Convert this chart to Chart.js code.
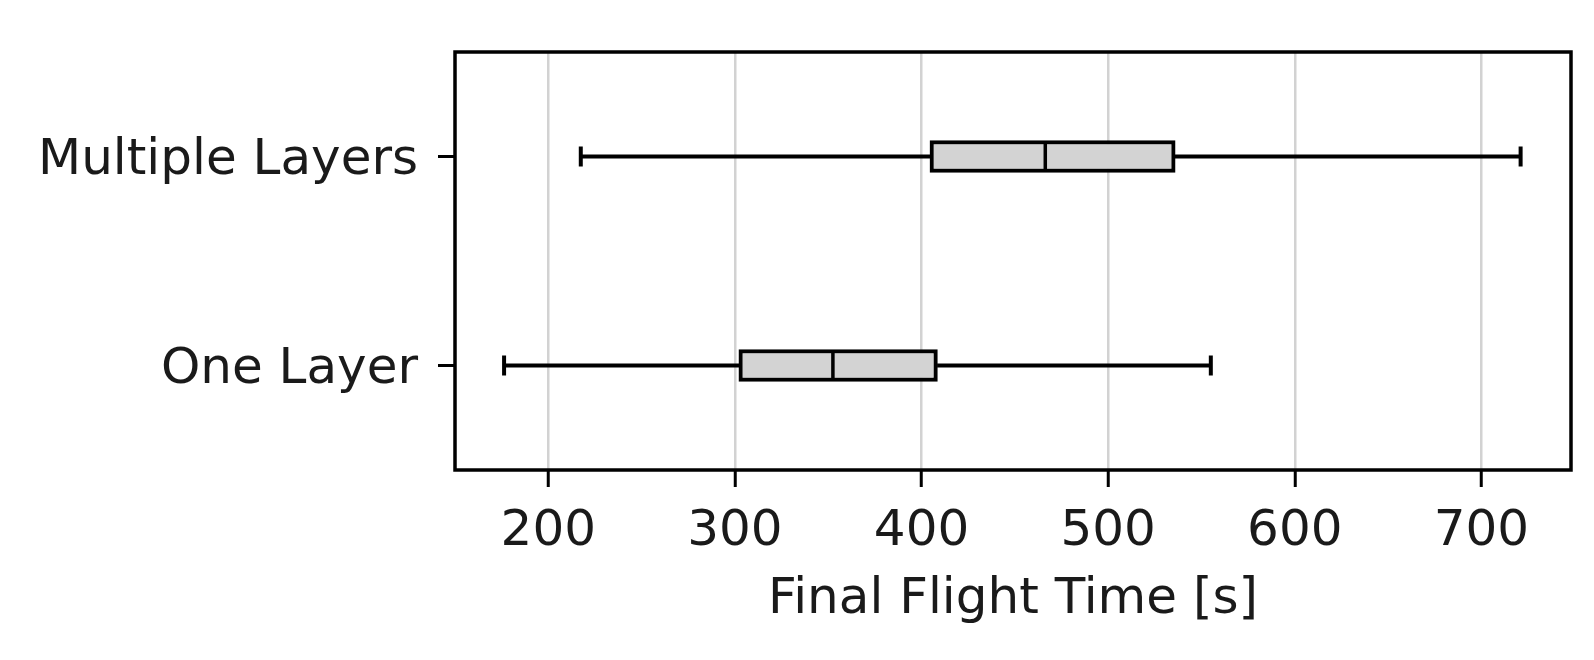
<!DOCTYPE html>
<html>
<head>
<meta charset="utf-8">
<title>Final Flight Time</title>
<script src="https://cdn.jsdelivr.net/npm/chart.js@4"></script>
<style>
  html, body { margin: 0; padding: 0; background: #fff; }
  canvas { display: block; }
</style>
</head>
<body>
<canvas id="boxChart" width="1594" height="660"></canvas>
<script>
// box plot values (seconds)
const categories = ['Multiple Layers', 'One Layer'];
const whiskerLow = [217.4, 176.3];
const q1 = [404.5, 302.1];
const median = [466.3, 352.5];
const q3 = [535.9, 408.5];
const whiskerHigh = [721.0, 555.0];
const xTicks = [200, 300, 400, 500, 600, 700];

Chart.defaults.font.family = "'DejaVu Sans', sans-serif";
Chart.defaults.color = '#1a1a1a';

const pts = (vals) => vals.map((v, i) => ({ x: v, y: categories[i] }));

// axes frame (matplotlib style spines)
const frame = {
  id: 'frame',
  afterDraw(chart) {
    const { ctx, chartArea: a } = chart;
    ctx.save();
    ctx.strokeStyle = '#000';
    ctx.lineWidth = 3.5;
    ctx.strokeRect(a.left, a.top, a.right - a.left, a.bottom - a.top);
    ctx.restore();
  }
};

const ctx = document.getElementById('boxChart');
const myChart = new Chart(ctx, {
  type: 'bar',
  data: {
    labels: categories,
    datasets: [
      {
        type: 'scatter',
        label: 'median',
        data: pts(median),
        pointStyle: 'line',
        rotation: 90,
        radius: 14,
        borderWidth: 3.5,
        borderColor: '#000',
        order: 0
      },
      {
        type: 'scatter',
        label: 'caps',
        data: pts(whiskerLow).concat(pts(whiskerHigh)),
        pointStyle: 'line',
        rotation: 90,
        radius: 10,
        borderWidth: 4,
        borderColor: '#000',
        order: 1
      },
      {
        label: 'box',
        data: q1.map((v, i) => [v, q3[i]]),
        backgroundColor: '#d3d3d3',
        borderColor: '#000',
        borderWidth: 4,
        borderSkipped: false,
        barThickness: 32,
        grouped: false,
        order: 2
      },
      {
        label: 'lower whisker',
        data: whiskerLow.map((v, i) => [v, q1[i]]),
        backgroundColor: '#000',
        borderWidth: 0,
        barThickness: 3.5,
        grouped: false,
        order: 3
      },
      {
        label: 'upper whisker',
        data: q3.map((v, i) => [v, whiskerHigh[i]]),
        backgroundColor: '#000',
        borderWidth: 0,
        barThickness: 3.5,
        grouped: false,
        order: 3
      }
    ]
  },
  options: {
    indexAxis: 'y',
    responsive: false,
    animation: false,
    events: [],
    layout: { padding: { top: 52, right: 23, bottom: 0, left: 0 } },
    plugins: {
      legend: { display: false },
      tooltip: { enabled: false }
    },
    scales: {
      x: {
        type: 'linear',
        min: 150,
        max: 748,
        afterBuildTicks: (s) => { s.ticks = xTicks.map(v => ({ value: v })); },
        afterFit: (s) => { s.height = 190; },
        border: { display: false },
        grid: {
          color: '#d2d2d2',
          lineWidth: 2.5,
          tickColor: '#000',
          tickWidth: 3,
          tickLength: 17
        },
        ticks: {
          padding: 15,
          font: { size: 50 }
        },
        title: {
          display: true,
          text: 'Final Flight Time [s]',
          font: { size: 50 },
          padding: { top: 0, bottom: 30 }
        }
      },
      y: {
        type: 'category',
        afterFit: (s) => { s.width = 455; },
        border: { display: false },
        grid: {
          offset: false,
          drawOnChartArea: false,
          tickColor: '#000',
          tickWidth: 3,
          tickLength: 17
        },
        ticks: {
          padding: 20,
          labelOffset: 5,
          font: { size: 50 }
        }
      }
    }
  },
  plugins: [frame]
});
</script>
</body>
</html>
